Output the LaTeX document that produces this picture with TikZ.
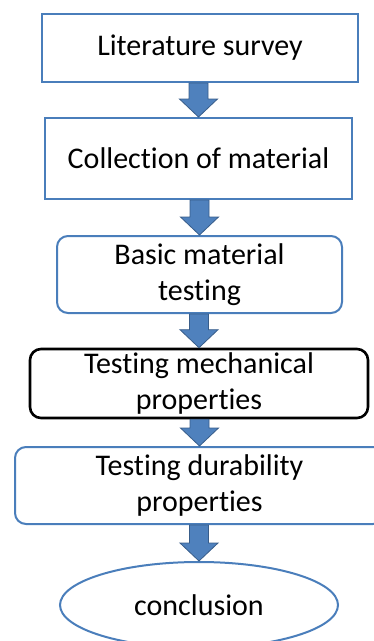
\documentclass[tikz,border=0pt]{standalone}
\usepackage{fontspec}
\setmainfont[Ligatures=NoCommon]{Carlito}
\usetikzlibrary{calc,shapes.geometric}

\definecolor{boxblue}{HTML}{4A7EBB}
\definecolor{arrowfill}{HTML}{4F81BD}
\definecolor{arrowedge}{HTML}{385D8A}

\tikzset{
  stagebox/.style={draw=boxblue, line width=2pt, fill=white, align=center,
    font=\fontsize{30}{36}\selectfont, inner sep=0pt},
  roundbox/.style={stagebox, rounded corners=11pt},
  blockarrow/.style={fill=arrowfill, draw=arrowedge, line width=0.8pt}
}

% block arrow from the bottom of #1 to the top of #2
\newcommand{\flowarrow}[2]{%
  \draw[blockarrow] ($(#1.south -| #2.north)+(-9.5,0)$)
    -- ($(#2.north)+(-9.5,-18)$) -- ($(#2.north)+(-19,-18)$)
    -- (#2.north)
    -- ($(#2.north)+(19,-18)$) -- ($(#2.north)+(9.5,-18)$)
    -- ($(#1.south -| #2.north)+(9.5,0)$) -- cycle;}

\begin{document}
\begin{tikzpicture}[x=1pt, y=-1pt]
    \useasboundingbox (0,0) rectangle (374,641);
    \clip (0,0) rectangle (374,641);

    % Stages
    \node[stagebox, minimum width=316pt, minimum height=68pt] (lit) at (200,48) {Literature survey};
    \node[stagebox, minimum width=307pt, minimum height=81pt] (coll) at (198.5,158.5) {Collection of material};
    \node[roundbox, minimum width=285pt, minimum height=77pt] (basic) at (199.5,274.5) {Basic material\\testing};
    \node[roundbox, draw=black, line width=2.6pt, minimum width=338pt, minimum height=69pt] (mech) at (199,383.5) {Testing mechanical\\properties};
    \node[roundbox, minimum width=369pt, minimum height=77pt] (dur) at (199.5,485.5) {Testing durability\\properties};
    \node[stagebox, ellipse, minimum width=278pt, minimum height=86pt] (concl) at (199,605) {conclusion};

    % Arrows between stages
    \flowarrow{lit}{coll}
    \flowarrow{coll}{basic}
    \flowarrow{basic}{mech}
    \flowarrow{mech}{dur}
    \flowarrow{dur}{concl}
\end{tikzpicture}
\end{document}
